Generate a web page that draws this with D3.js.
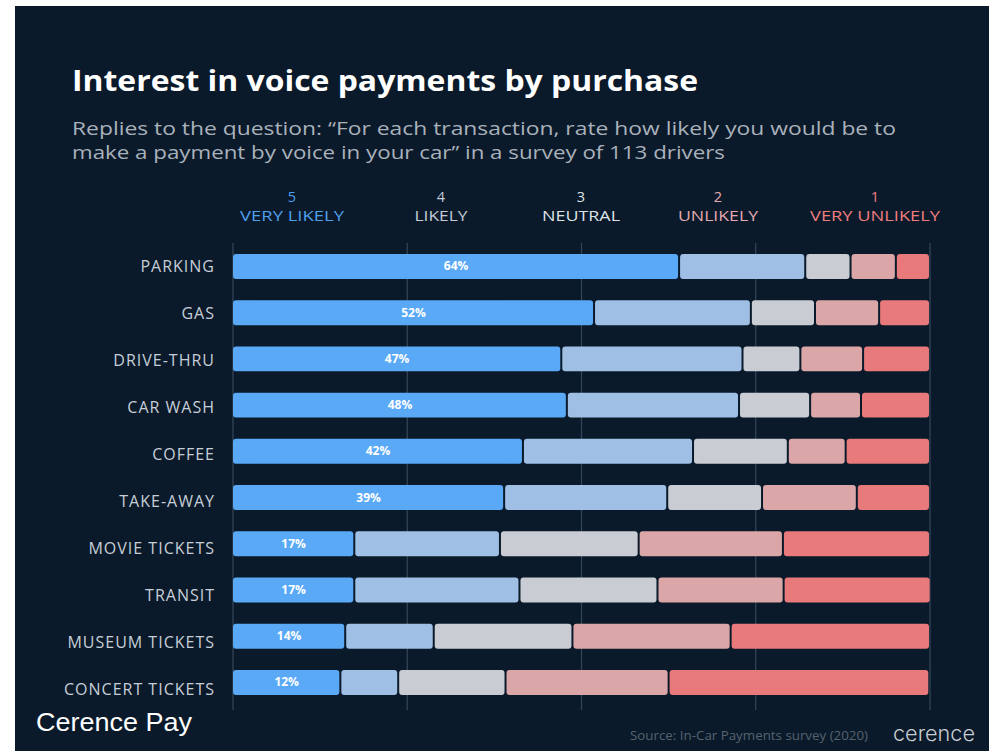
<!DOCTYPE html>
<html>
<head>
<meta charset="utf-8">
<script src="https://cdn.jsdelivr.net/npm/d3@7"></script>
<style>
  html, body { margin: 0; padding: 0; background: #ffffff; }
  svg { display: block; }
</style>
</head>
<body>
<div id="chart"></div>
<script>
// ---------------- DATA ----------------
const categories = ["PARKING", "GAS", "DRIVE-THRU", "CAR WASH", "COFFEE", "TAKE-AWAY",
  "MOVIE TICKETS", "TRANSIT", "MUSEUM TICKETS", "CONCERT TICKETS"];
const veryLikely   = [64.0, 51.8, 47.1, 47.9, 41.6, 38.9, 17.4, 17.4, 16.1, 15.4];
const likely       = [18.1, 22.5, 26.0, 24.7, 24.4, 23.4, 20.9, 23.7, 12.7, 8.3];
const neutral      = [6.5, 9.2, 8.3, 10.2, 13.6, 13.6, 19.9, 19.8, 19.9, 15.4];
const unlikely     = [6.5, 9.2, 9.0, 7.3, 8.3, 13.6, 20.7, 18.1, 22.7, 23.4];
const veryUnlikely = [4.9, 7.3, 9.6, 9.9, 12.1, 10.5, 21.1, 21.1, 28.6, 37.4];
const veryLikelyLabels = ["64%", "52%", "47%", "48%", "42%", "39%", "17%", "17%", "14%", "12%"];
const levelKeys   = ["veryLikely", "likely", "neutral", "unlikely", "veryUnlikely"];
const levelNums   = ["5", "4", "3", "2", "1"];
const levelNames  = ["VERY LIKELY", "LIKELY", "NEUTRAL", "UNLIKELY", "VERY UNLIKELY"];
const xTicks      = [0, 25, 50, 75, 100];

const title = "Interest in voice payments by purchase";
const subtitle1 = "Replies to the question: \u201CFor each transaction, rate how likely you would be to";
const subtitle2 = "make a payment by voice in your car\u201D in a survey of 113 drivers";
const footerLeft = "Cerence Pay";
const sourceText = "Source: In-Car Payments survey (2020)";
const logoText = "cerence";

// ---------------- LAYOUT ----------------
const W = 989, H = 751;
const FONT = "'Open Sans', 'Noto Sans', sans-serif";
const barColors = ["#5aa9f6", "#9fbfe4", "#c9cdd3", "#dba6a7", "#e97a7b"];
const headColors = ["#4f9fea", "#c3cbd7", "#dfe3e8", "#e3abb0", "#f07d7e"];
const headerX = [292, 441, 581, 718, 875];
const headerW = [104, 53, 78, 80, 130];

const rows = categories.map((c, i) => ({
  category: c,
  veryLikely: veryLikely[i], likely: likely[i], neutral: neutral[i],
  unlikely: unlikely[i], veryUnlikely: veryUnlikely[i],
  label: veryLikelyLabels[i]
}));

const svg = d3.select("#chart").append("svg")
  .attr("width", W).attr("height", H);

// white margin + dark panel
svg.append("rect").attr("width", W).attr("height", H).attr("fill", "#ffffff");
svg.append("rect").attr("x", 15).attr("y", 6).attr("width", W - 15).attr("height", H - 6)
  .attr("fill", "#0a1a2a");

const x = d3.scaleLinear().domain([0, 100]).range([233, 930]);
const y = d3.scaleBand().domain(categories)
  .range([242.4, 706.5]).paddingInner(0.46).paddingOuter(0.25);
// category labels sit on a slightly wider spacing than the bars
const yLabel = d3.scalePoint().domain(categories).range([266, 689]);

// gridlines
svg.append("g").selectAll("line").data(xTicks).join("line")
  .attr("x1", d => x(d)).attr("x2", d => x(d))
  .attr("y1", 243).attr("y2", 710)
  .attr("stroke", "#34475a").attr("stroke-width", 1.2);

// title & subtitle
svg.append("text").attr("x", 72).attr("y", 91)
  .attr("font-family", FONT).attr("font-weight", 700).attr("font-size", 29)
  .attr("fill", "#ffffff").attr("textLength", 626).attr("lengthAdjust", "spacingAndGlyphs")
  .text(title);
svg.append("text").attr("x", 72).attr("y", 135)
  .attr("font-family", FONT).attr("font-size", 18).attr("fill", "#a9b1bb")
  .attr("textLength", 824).attr("lengthAdjust", "spacingAndGlyphs")
  .text(subtitle1);
svg.append("text").attr("x", 72).attr("y", 159)
  .attr("font-family", FONT).attr("font-size", 18).attr("fill", "#a9b1bb")
  .attr("textLength", 653).attr("lengthAdjust", "spacingAndGlyphs")
  .text(subtitle2);

// legend header
const head = svg.append("g");
levelKeys.forEach((k, i) => {
  head.append("text").attr("x", headerX[i]).attr("y", 202)
    .attr("text-anchor", "middle").attr("font-family", FONT).attr("font-size", 14.5)
    .attr("fill", headColors[i]).text(levelNums[i]);
  head.append("text").attr("x", headerX[i]).attr("y", 221)
    .attr("text-anchor", "middle").attr("font-family", FONT).attr("font-size", 15)
    .attr("textLength", headerW[i]).attr("lengthAdjust", "spacingAndGlyphs")
    .attr("fill", headColors[i]).text(levelNames[i]);
});

// stacked bars
const stack = d3.stack().keys(levelKeys);
const series = stack(rows);
const barG = svg.append("g");
series.forEach((s, si) => {
  barG.append("g").selectAll("rect").data(s).join("rect")
    .attr("x", d => x(d[0]) + (si === 0 ? 0 : 1))
    .attr("y", d => y(d.data.category))
    .attr("width", d => Math.max(0, x(d[1]) - x(d[0]) - (si === 0 ? 1 : 2)))
    .attr("height", y.bandwidth())
    .attr("rx", 3).attr("ry", 3)
    .attr("fill", barColors[si]);
});

// percentage labels in the first segment
svg.append("g").selectAll("text").data(series[0]).join("text")
  .attr("x", d => (x(d[0]) + x(d[1])) / 2)
  .attr("y", d => y(d.data.category) + y.bandwidth() / 2 + 4)
  .attr("text-anchor", "middle").attr("font-family", FONT)
  .attr("font-weight", 700).attr("font-size", 12).attr("fill", "#ffffff")
  .text(d => d.data.label);

// category labels
svg.append("g").selectAll("text").data(categories).join("text")
  .attr("x", 215)
  .attr("y", d => yLabel(d) + 6)
  .attr("text-anchor", "end").attr("font-family", FONT).attr("font-size", 16)
  .attr("letter-spacing", 1)
  .attr("fill", "#c7ced8").text(d => d);

// footer
svg.append("text").attr("x", 36).attr("y", 731)
  .attr("font-family", "'Liberation Sans', 'Noto Sans', sans-serif").attr("font-size", 25)
  .attr("fill", "#ffffff").attr("textLength", 156).attr("lengthAdjust", "spacingAndGlyphs")
  .text(footerLeft);
svg.append("text").attr("x", 630).attr("y", 740)
  .attr("font-family", FONT).attr("font-size", 12.5).attr("fill", "#56626f")
  .attr("textLength", 238).attr("lengthAdjust", "spacingAndGlyphs")
  .text(sourceText);
svg.append("text").attr("x", 893).attr("y", 741)
  .attr("font-family", "'Inter', 'Open Sans', sans-serif").attr("font-weight", 300).attr("font-size", 21)
  .attr("fill", "#c9cdd3").attr("textLength", 82).attr("lengthAdjust", "spacingAndGlyphs")
  .text(logoText);
</script>
</body>
</html>
